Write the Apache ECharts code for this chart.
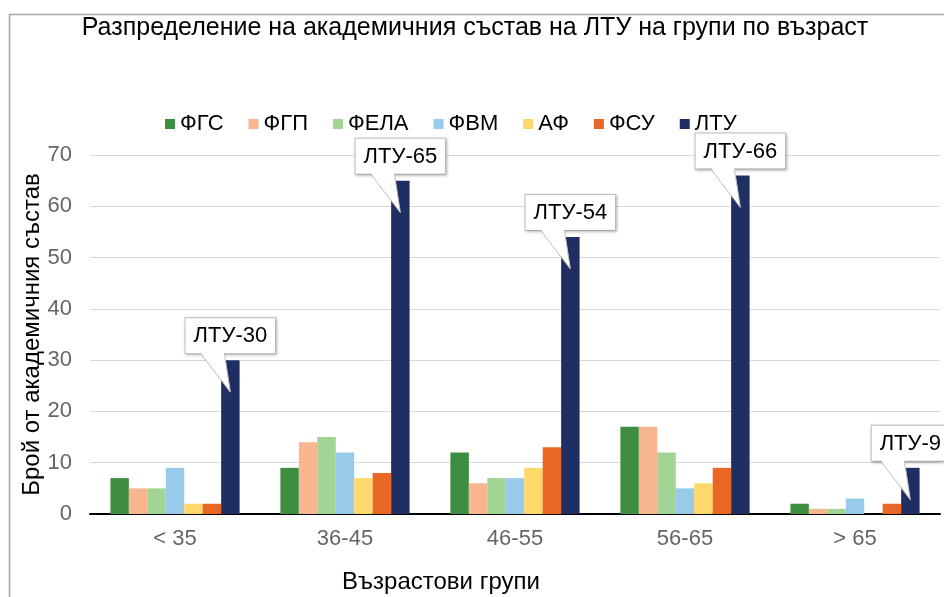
<!DOCTYPE html>
<html><head><meta charset="utf-8">
<script src="https://cdn.jsdelivr.net/npm/echarts@6/dist/echarts.min.js"></script>
<style>html,body{margin:0;padding:0;background:#fff}#c{width:944px;height:597px}</style>
</head><body><div id="c"></div>
<script>
const categories = ['< 35', '36-45', '46-55', '56-65', '> 65'];
const seriesNames = ['ФГС', 'ФГП', 'ФЕЛА', 'ФВМ', 'АФ', 'ФСУ', 'ЛТУ'];
const fgs  = [7, 9, 12, 17, 2];
const fgp  = [5, 14, 6, 17, 1];
const fela = [5, 15, 7, 12, 1];
const fvm  = [9, 12, 7, 5, 3];
const af   = [2, 7, 9, 6, 0];
const fsu  = [2, 8, 13, 9, 2];
const ltu  = [30, 65, 54, 66, 9];
const yTicks = [0, 10, 20, 30, 40, 50, 60, 70];
const colors = ['#3e8e42', '#f8b690', '#a2d495', '#98cbea', '#fed86b', '#e86724', '#1f2f64'];
const allData = [fgs, fgp, fela, fvm, af, fsu, ltu];

const FONT = 'Liberation Sans, Arial, sans-serif';
const GAP = 0.24;

const chart = echarts.init(document.getElementById('c'), null, {renderer: 'canvas'});
const series = allData.map((d, i) => {
  const s = {
    name: seriesNames[i], type: 'bar', data: d,
    barGap: '0%', barCategoryGap: (GAP * 100) + '%',
    itemStyle: {color: colors[i]}, z: 2
  };
  if (i === 6) {
    s.label = {
      show: true, position: 'top', distance: 7,
      formatter: p => 'ЛТУ-' + p.value,
      fontFamily: FONT, fontSize: 22, color: '#000', lineHeight: 24,
      backgroundColor: '#fff', borderColor: '#bfbfbf', borderWidth: 1,
      padding: [6, 8, 5, 8],
      shadowColor: 'rgba(0,0,0,0.25)', shadowBlur: 3, shadowOffsetX: 1, shadowOffsetY: 1
    };
  }
  return s;
});
// callout tails drawn from the axis scale
series.push({
  type: 'custom', name: 'tail', z: 10, silent: true,
  data: ltu.map((v, i) => [i, v]),
  renderItem: function (params, api) {
    const p = api.coord([api.value(0), api.value(1)]);
    const cw = api.size([1, 0])[0];
    const bw = cw * (1 - GAP) / 7;
    const x = p[0] + 3 * bw;
    const top = p[1];
    const by = top - 7;
    return {
      type: 'group',
      children: [
        {type: 'polygon', shape: {points: [[x - 30, by - 1.5], [x - 6, by - 1.5], [x, top + 32]]},
         style: {fill: '#fff', stroke: null}},
        {type: 'polyline', shape: {points: [[x - 30, by], [x, top + 32], [x - 6, by]]},
         style: {fill: null, stroke: '#bfbfbf', lineWidth: 1}}
      ]
    };
  }
});

chart.setOption({
  animation: false,
  backgroundColor: '#fff',
  title: [
    {text: 'Разпределение на академичния състав на ЛТУ на групи по възраст', left: 470, top: 11, textAlign: 'center',
     textStyle: {fontFamily: FONT, fontSize: 25, fontWeight: 'normal', color: '#000'}},
    {text: 'Възрастови групи', left: 436, top: 565, textAlign: 'center',
     textStyle: {fontFamily: FONT, fontSize: 24, fontWeight: 'normal', color: '#000'}}
  ],
  graphic: [{type: 'rect', left: 7, top: 12, shape: {width: 1000, height: 1000},
    style: {fill: null, stroke: '#a6a6a6', lineWidth: 1.5}, silent: true}],
  legend: {
    data: seriesNames, left: 160, top: 108, icon: 'rect', itemWidth: 10, itemHeight: 10, itemGap: 25,
    textStyle: {fontFamily: FONT, fontSize: 22, color: '#000'}
  },
  grid: {left: 90, right: 4, top: 155, bottom: 83, containLabel: false},
  xAxis: {
    type: 'category', data: categories,
    axisLine: {lineStyle: {color: '#000', width: 2}}, axisTick: {show: false},
    axisLabel: {fontFamily: FONT, fontSize: 22, color: '#666', margin: 14}
  },
  yAxis: {
    type: 'value', min: yTicks[0], max: yTicks[yTicks.length - 1], interval: 10,
    name: 'Брой от академичния състав', nameLocation: 'middle', nameGap: 46, nameMoveOverlap: false,
    nameTextStyle: {fontFamily: FONT, fontSize: 24, color: '#000'},
    axisLine: {show: false}, axisTick: {show: false},
    axisLabel: {fontFamily: FONT, fontSize: 22, color: '#666', margin: 18},
    splitLine: {lineStyle: {color: '#d9d9d9', width: 1}}
  },
  series: series
});
</script></body></html>
